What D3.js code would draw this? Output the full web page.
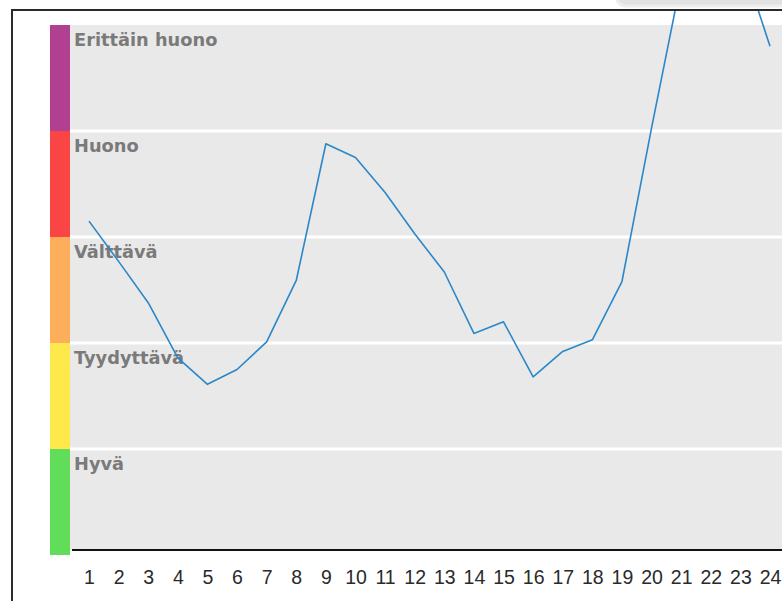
<!DOCTYPE html>
<html>
<head>
<meta charset="utf-8">
<script src="https://cdn.jsdelivr.net/npm/d3@7"></script>
<style>
  html, body { margin: 0; padding: 0; background: #fff; }
  svg { display: block; }
</style>
</head>
<body>
<svg id="chart" width="782" height="601"></svg>
<script>
// ---- data ----
const hours = [1, 2, 3, 4, 5, 6, 7, 8, 9, 10, 11, 12, 13, 14, 15, 16, 17, 18, 19, 20, 21, 22, 23, 24];
const values = [3.15, 2.77, 2.38, 1.86, 1.61, 1.75, 2.01, 2.59, 3.88, 3.75, 3.42, 3.03,
                2.67, 2.09, 2.20, 1.68, 1.92, 2.03, 2.58, 4.03, 5.42, 5.80, 5.65, 4.80];
const bandNames = ["Hyvä", "Tyydyttävä", "Välttävä", "Huono", "Erittäin huono"];
const bandColors = ["#62dd5a", "#fde94c", "#fdae5a", "#fa4545", "#b13f92"];

// ---- layout ----
const W = 782, H = 601;
const frameLeft = 12, frameTop = 10;
const barX0 = 50, barX1 = 70;
const plotRight = 782;
const axisY = 550;

const svg = d3.select("#chart");

const x = d3.scaleLinear().domain([1, 24]).range([89, 770]);
const y = d3.scaleLinear().domain([0, bandNames.length]).range([555, 25]);

// top-right decoration (cut-off control)
svg.append("rect")
  .attr("x", 616).attr("y", -14).attr("width", 200).attr("height", 20)
  .attr("rx", 10)
  .attr("fill", "#e2e2e2").attr("stroke", "#eeeeee").attr("stroke-width", 3);

// grey plot background
svg.append("rect")
  .attr("x", barX1).attr("y", y(bandNames.length))
  .attr("width", plotRight - barX1).attr("height", axisY - y(bandNames.length))
  .attr("fill", "#e9e9e9");

// white separator lines
svg.selectAll("line.sep")
  .data(d3.range(1, bandNames.length))
  .join("line")
  .attr("class", "sep")
  .attr("x1", barX1).attr("x2", plotRight)
  .attr("y1", d => y(d)).attr("y2", d => y(d))
  .attr("stroke", "#ffffff").attr("stroke-width", 3);

// colour bar
svg.selectAll("rect.band")
  .data(bandNames)
  .join("rect")
  .attr("class", "band")
  .attr("x", barX0).attr("width", barX1 - barX0)
  .attr("y", (d, i) => y(i + 1))
  .attr("height", (d, i) => y(i) - y(i + 1))
  .attr("fill", (d, i) => bandColors[i]);

// band labels
svg.selectAll("text.bandLabel")
  .data(bandNames)
  .join("text")
  .attr("class", "bandLabel")
  .attr("x", 74)
  .attr("y", (d, i) => y(i + 1) + 21)
  .attr("font-family", "'DejaVu Sans', Verdana, sans-serif")
  .attr("font-weight", "bold")
  .attr("font-size", 17.8)
  .attr("fill", "#7a7a7a")
  .text(d => d);

// x axis line
svg.append("line")
  .attr("x1", 72).attr("x2", plotRight)
  .attr("y1", axisY).attr("y2", axisY)
  .attr("stroke", "#111").attr("stroke-width", 2);

// x tick labels
const xAxis = d3.axisBottom(x).tickValues(hours).tickSize(0).tickPadding(0)
  .tickFormat(d3.format("d"));
const gx = svg.append("g").attr("transform", `translate(0,${axisY + 34})`).call(xAxis);
gx.select(".domain").remove();
gx.selectAll("text")
  .attr("dy", 0)
  .attr("font-family", "'Liberation Sans', Arial, sans-serif")
  .attr("font-size", 19.5)
  .attr("fill", "#2a2a2a");

// clip for the line
svg.append("clipPath").attr("id", "clip")
  .append("rect")
  .attr("x", frameLeft).attr("y", frameTop)
  .attr("width", W - frameLeft).attr("height", axisY - frameTop);

// data line
const line = d3.line().x((d, i) => x(hours[i])).y(d => y(d));
svg.append("path")
  .datum(values)
  .attr("clip-path", "url(#clip)")
  .attr("d", line)
  .attr("fill", "none")
  .attr("stroke", "#2b87c8")
  .attr("stroke-width", 1.6)
  .attr("stroke-linejoin", "round");

// frame
svg.append("path")
  .attr("d", `M${frameLeft},${H} V${frameTop} H${W}`)
  .attr("fill", "none")
  .attr("stroke", "#2a2a2a").attr("stroke-width", 2);
</script>
</body>
</html>
